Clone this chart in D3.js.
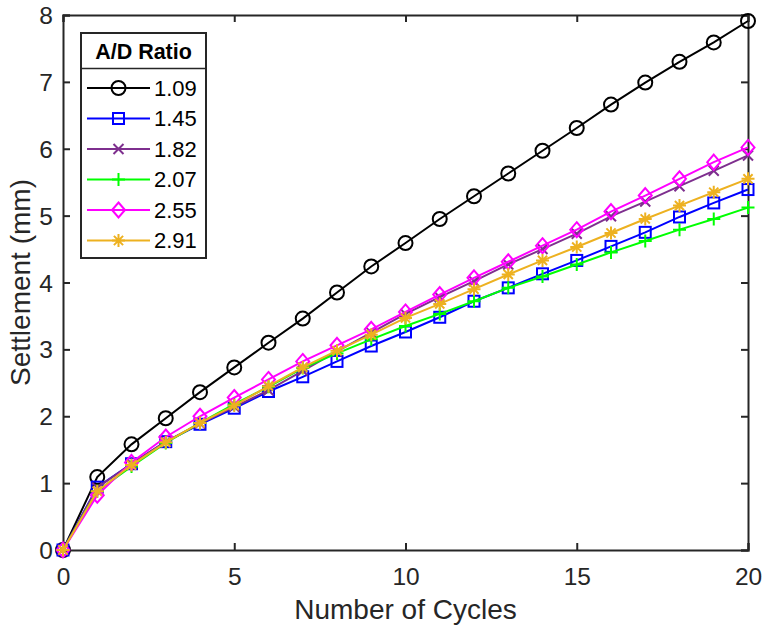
<!DOCTYPE html>
<html><head><meta charset="utf-8">
<script src="https://cdn.jsdelivr.net/npm/d3@7/dist/d3.min.js"></script>
<style>body{margin:0;background:#fff;} svg{display:block;font-family:"Liberation Sans",Arial,Helvetica,sans-serif;}</style>
</head><body>
<script>
const cycles = d3.range(0, 21);
const ratios = ["1.09","1.45","1.82","2.07","2.55","2.91"];
const s109 = [0,1.09,1.58,1.97,2.36,2.73,3.10,3.46,3.85,4.24,4.59,4.95,5.29,5.63,5.97,6.31,6.66,6.99,7.30,7.59,7.91];
const s145 = [0,0.94,1.29,1.62,1.88,2.12,2.37,2.59,2.82,3.05,3.26,3.48,3.72,3.92,4.13,4.33,4.54,4.75,4.98,5.19,5.39];
const s182 = [0,0.93,1.29,1.62,1.89,2.14,2.39,2.68,2.97,3.25,3.53,3.78,4.02,4.27,4.50,4.73,4.99,5.21,5.44,5.67,5.90];
const s207 = [0,0.88,1.25,1.60,1.90,2.18,2.44,2.72,2.94,3.15,3.35,3.53,3.72,3.92,4.09,4.27,4.45,4.62,4.79,4.95,5.12];
const s255 = [0,0.82,1.31,1.69,2.00,2.28,2.55,2.82,3.06,3.30,3.56,3.82,4.07,4.31,4.55,4.79,5.06,5.30,5.55,5.80,6.02];
const s291 = [0,0.88,1.27,1.61,1.90,2.16,2.45,2.73,2.98,3.22,3.47,3.68,3.90,4.12,4.33,4.53,4.74,4.95,5.15,5.35,5.55];
const seriesValues = [s109, s145, s182, s207, s255, s291];
const colors = ["#000000","#0000ff","#7e2f8e","#00ff00","#ff00ff","#edb120"];
const markers = ["circle","square","x","plus","diamond","star"];
const xTicks = [0,5,10,15,20];
const yTicks = [0,1,2,3,4,5,6,7,8];

const W = 762, H = 627;
const m = {left:63, right:14, top:15, bottom:77};
const iw = W - m.left - m.right, ih = H - m.top - m.bottom;
const svg = d3.select("body").append("svg").attr("width", W).attr("height", H);
const g = svg.append("g").attr("transform", `translate(${m.left},${m.top})`);
const x = d3.scaleLinear().domain([0,20]).range([0, iw]);
const y = d3.scaleLinear().domain([0,8]).range([ih, 0]);
const axisColor = "#262626";

// axes
const xa = g.append("g").attr("transform", `translate(0,${ih})`)
  .call(d3.axisBottom(x).tickValues(xTicks).tickSize(-7).tickPadding(18));
const ya = g.append("g").call(d3.axisLeft(y).tickValues(yTicks).tickSize(-7).tickPadding(10));
const xt = g.append("g").call(d3.axisTop(x).tickValues(xTicks).tickSize(-7).tickFormat(""));
const yr = g.append("g").attr("transform", `translate(${iw},0)`).call(d3.axisRight(y).tickValues(yTicks).tickSize(-7).tickFormat(""));
[xa, ya, xt, yr].forEach(a => {
  a.select(".domain").attr("stroke", axisColor).attr("stroke-width", 2);
  a.selectAll(".tick line").attr("stroke", axisColor).attr("stroke-width", 2);
  a.selectAll(".tick text").attr("fill", axisColor).attr("font-size", 24.5).attr("font-family", "Liberation Sans, Arial, sans-serif");
});
xa.selectAll(".tick text").attr("dy", "0.71em");
ya.selectAll(".tick text").attr("dy", "0.35em");

svg.append("text").attr("x", m.left + iw/2).attr("y", 619).attr("text-anchor","middle")
  .attr("font-size", 28).attr("fill", axisColor).text("Number of Cycles");
svg.append("text").attr("transform", `translate(30,${m.top + ih/2}) rotate(-90)`).attr("text-anchor","middle")
  .attr("font-size", 28).attr("fill", axisColor).text("Settlement (mm)");

function drawMarker(sel, type, color) {
  const sw = 2;
  if (type === "circle") sel.append("circle").attr("r", 7).attr("fill","none").attr("stroke",color).attr("stroke-width",sw);
  else if (type === "square") sel.append("rect").attr("x",-5.5).attr("y",-5.5).attr("width",11).attr("height",11).attr("fill","none").attr("stroke",color).attr("stroke-width",sw);
  else if (type === "diamond") sel.append("path").attr("d","M0,-7.5L6.5,0L0,7.5L-6.5,0Z").attr("fill","none").attr("stroke",color).attr("stroke-width",sw);
  else if (type === "x") sel.append("path").attr("d","M-5,-5L5,5M-5,5L5,-5").attr("stroke",color).attr("stroke-width",sw);
  else if (type === "plus") sel.append("path").attr("d","M-6.5,0L6.5,0M0,-6.5L0,6.5").attr("stroke",color).attr("stroke-width",sw);
  else if (type === "star") sel.append("path").attr("d","M-6.5,0L6.5,0M0,-6.5L0,6.5M-4.6,-4.6L4.6,4.6M-4.6,4.6L4.6,-4.6").attr("stroke",color).attr("stroke-width",sw);
}

const line = d3.line().x((d,i) => x(cycles[i])).y(d => y(d));
seriesValues.forEach((vals, si) => {
  const sg = g.append("g");
  sg.append("path").datum(vals).attr("d", line).attr("fill","none").attr("stroke", colors[si]).attr("stroke-width", 2);
  vals.forEach((v, i) => {
    const mg = sg.append("g").attr("transform", `translate(${x(cycles[i])},${y(v)})`);
    drawMarker(mg, markers[si], colors[si]);
  });
});

// legend
const lg = svg.append("g").attr("transform", "translate(81,33)");
const lw = 125, lh = 225;
lg.append("rect").attr("width", lw).attr("height", lh).attr("fill","#fff").attr("stroke", axisColor).attr("stroke-width", 2);
lg.append("line").attr("x1",0).attr("x2",lw).attr("y1",35.5).attr("y2",35.5).attr("stroke",axisColor).attr("stroke-width",1.5);
lg.append("text").attr("x", lw/2).attr("y", 26).attr("text-anchor","middle").attr("font-weight","bold")
  .attr("font-size", 21.5).attr("fill","#000").text("A/D Ratio");
ratios.forEach((r, i) => {
  const yy = 55 + i*30.5;
  const eg = lg.append("g").attr("transform", `translate(0,${yy})`);
  eg.append("line").attr("x1",6).attr("x2",69).attr("y1",0).attr("y2",0).attr("stroke",colors[i]).attr("stroke-width",2);
  const mg = eg.append("g").attr("transform","translate(37.5,0)");
  drawMarker(mg, markers[i], colors[i]);
  eg.append("text").attr("x", 73).attr("y", 0).attr("dy","0.35em").attr("font-size", 22).attr("fill","#000").text(r);
});
</script>
</body></html>
